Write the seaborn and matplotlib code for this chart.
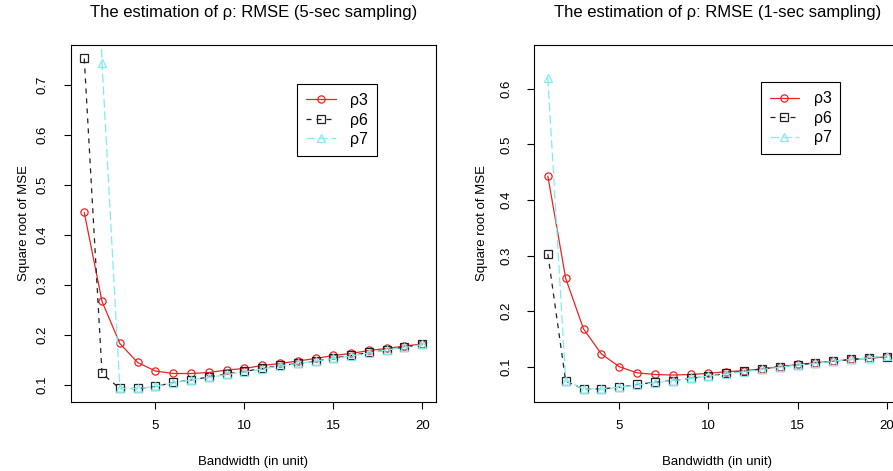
import numpy as np
import pandas as pd
import seaborn as sns
import matplotlib
matplotlib.use('Agg')
from matplotlib import pyplot as plt

# bandwidth (in unit)
bandwidth = list(range(1, 21))

# 5-sec sampling
rho3_5s = [0.445, 0.267, 0.183, 0.145, 0.128, 0.123, 0.123, 0.125, 0.130, 0.133,
           0.139, 0.143, 0.148, 0.153, 0.159, 0.163, 0.169, 0.173, 0.178, 0.182]
rho6_5s = [0.753, 0.123, 0.093, 0.093, 0.097, 0.105, 0.110, 0.116, 0.122, 0.127,
           0.133, 0.139, 0.143, 0.148, 0.154, 0.159, 0.165, 0.170, 0.176, 0.181]
rho7_5s = [1.900, 0.743, 0.093, 0.093, 0.097, 0.104, 0.110, 0.115, 0.121, 0.126,
           0.132, 0.138, 0.143, 0.148, 0.153, 0.158, 0.164, 0.170, 0.175, 0.181]

# 1-sec sampling
rho3_1s = [0.443, 0.259, 0.168, 0.123, 0.100, 0.089, 0.086, 0.085, 0.086, 0.088,
           0.091, 0.093, 0.096, 0.100, 0.104, 0.107, 0.110, 0.113, 0.115, 0.118]
rho6_1s = [0.303, 0.074, 0.060, 0.060, 0.063, 0.068, 0.072, 0.075, 0.079, 0.083,
           0.088, 0.092, 0.096, 0.100, 0.103, 0.107, 0.110, 0.113, 0.116, 0.118]
rho7_1s = [0.620, 0.075, 0.060, 0.060, 0.063, 0.067, 0.071, 0.075, 0.079, 0.083,
           0.087, 0.091, 0.095, 0.099, 0.103, 0.106, 0.110, 0.113, 0.116, 0.119]

titles = ['The estimation of \u03c1: RMSE (5-sec sampling)',
          'The estimation of \u03c1: RMSE (1-sec sampling)']
series_names = ['\u03c13', '\u03c16', '\u03c17']
yticks_list = [[0.1, 0.2, 0.3, 0.4, 0.5, 0.6, 0.7], [0.1, 0.2, 0.3, 0.4, 0.5, 0.6]]
ylims = [(0.066, 0.780), (0.0365, 0.679)]

sns.set_style('ticks')
plt.rcParams['font.family'] = ['Liberation Sans', 'DejaVu Sans']
plt.rcParams['text.color'] = 'black'
plt.rcParams['axes.labelcolor'] = 'black'
plt.rcParams['xtick.color'] = 'black'
plt.rcParams['ytick.color'] = 'black'

fig = plt.figure(figsize=(8.93, 4.71), dpi=100)
ax1 = fig.add_axes([0.0792, 0.1465, 0.4088, 0.758])
ax2 = fig.add_axes([0.5983, 0.1465, 0.41, 0.758])

panels = [(ax1, [rho3_5s, rho6_5s, rho7_5s]), (ax2, [rho3_1s, rho6_1s, rho7_1s])]
legend_pos = [(0.621, 0.89), (0.619, 0.895)]
# 線の見た目 (R風)
styles = [
    dict(color='#ee2222', linestyle='-', marker='o'),
    dict(color='#222222', linestyle=(0, (4, 4)), marker='s'),
    dict(color='#7fecf2', linestyle=(0, (7, 3)), marker='^'),
]

for i, (ax, series) in enumerate(panels):
    for name, vals, st in zip(series_names, series, styles):
        df = pd.DataFrame({'bw': bandwidth, 'rmse': vals})
        sns.lineplot(data=df, x='bw', y='rmse', ax=ax, label=name,
                     color=st['color'], linestyle=st['linestyle'], marker=st['marker'],
                     markersize=5.2, markerfacecolor='none', markeredgecolor=st['color'],
                     markeredgewidth=0.9, linewidth=0.9)
    ax.set_xlim(0.24, 20.76)
    ax.set_ylim(*ylims[i])
    ax.set_xticks([5, 10, 15, 20])
    ax.set_yticks(yticks_list[i])
    ax.set_yticklabels([str(v) for v in yticks_list[i]], rotation=90, va='center')
    ax.tick_params(axis='both', length=5, width=0.8, labelsize=9.5, color='black',
                   labelcolor='black')
    ax.tick_params(axis='x', pad=8)
    ax.tick_params(axis='y', pad=11)
    for sp in ax.spines.values():
        sp.set_linewidth(0.8)
        sp.set_color('black')
    ax.set_xlabel('Bandwidth (in unit)', fontsize=9.5, labelpad=17)
    ax.set_ylabel('Square root of MSE', fontsize=9.5, labelpad=5 if i == 0 else 9)
    ax.set_title(titles[i], fontsize=12, pad=20)
    leg = ax.legend(loc='upper left', bbox_to_anchor=legend_pos[i],
                    borderaxespad=0, fancybox=False, edgecolor='black', framealpha=1,
                    fontsize=11.5, handlelength=1.85, labelspacing=0.28, handletextpad=0.9,
                    borderpad=0.55)
    leg.get_frame().set_linewidth(0.8)

fig.savefig('out.png', dpi=100)
